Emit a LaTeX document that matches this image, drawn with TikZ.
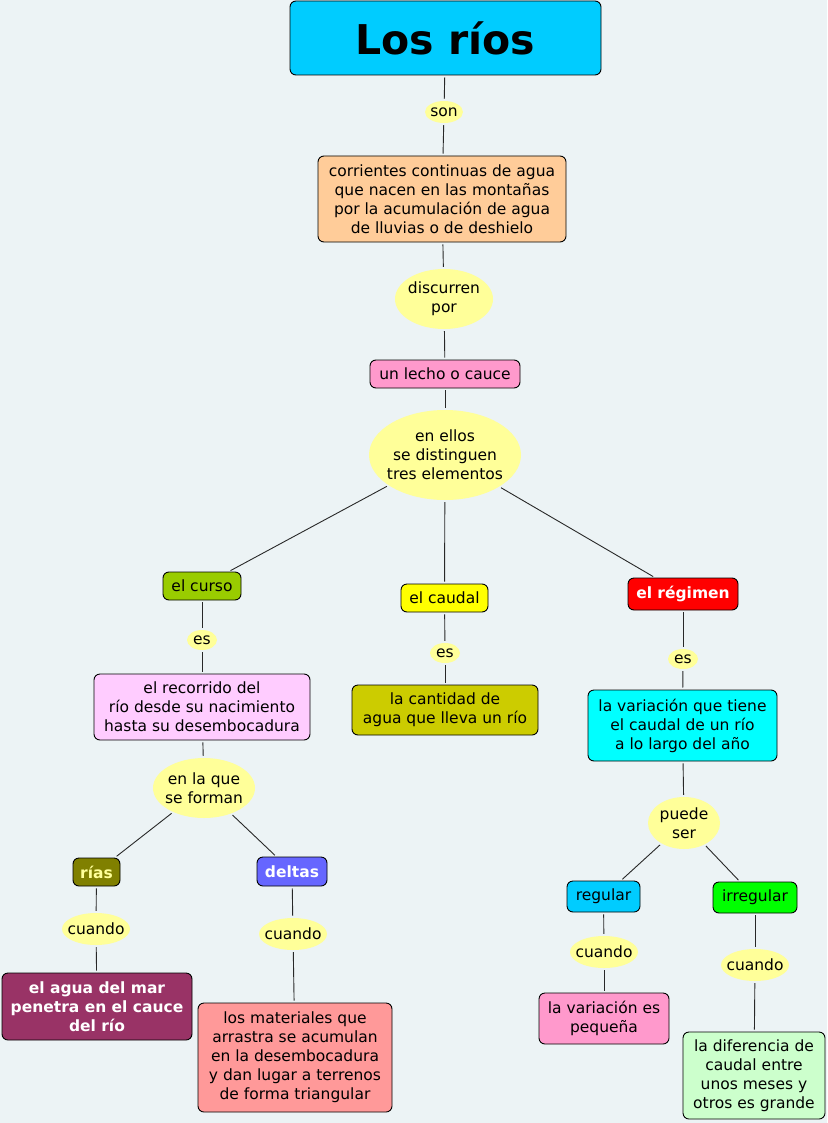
\documentclass[tikz,border=0pt]{standalone}
\usepackage{fontspec}
\setmainfont{DejaVu Sans}
\usetikzlibrary{shapes.geometric}
\definecolor{bg}{RGB}{236,243,245}
\definecolor{lnk}{RGB}{255,255,153}
\definecolor{ctitle}{RGB}{0,204,255}
\definecolor{corange}{RGB}{255,204,153}
\definecolor{cpink}{RGB}{255,153,204}
\definecolor{ccurso}{RGB}{153,204,0}
\definecolor{ccaudal}{RGB}{255,255,0}
\definecolor{cregimen}{RGB}{255,0,0}
\definecolor{clila}{RGB}{255,204,255}
\definecolor{colive}{RGB}{204,204,0}
\definecolor{ccyan}{RGB}{0,255,255}
\definecolor{crias}{RGB}{128,128,0}
\definecolor{cdeltas}{RGB}{102,102,255}
\definecolor{cgreen}{RGB}{0,255,0}
\definecolor{cmar}{RGB}{153,51,102}
\definecolor{csalmon}{RGB}{255,153,153}
\definecolor{cmint}{RGB}{204,255,204}
\definecolor{cline}{RGB}{40,40,40}
\begin{document}
\begin{tikzpicture}[x=1pt,y=-1pt,
  txt/.style={font=\fontsize{15.5}{19}\selectfont},
  cbox/.style={txt,draw=black,line width=0.9pt,rounded corners=6pt,align=center,inner sep=0pt},
  lk/.style={ellipse,fill=lnk,draw=none,inner sep=0pt},
  lktext/.style={txt,align=center,inner sep=0pt},
  conn/.style={draw=cline,line width=0.9pt,shorten <=2pt,shorten >=2pt}]
\useasboundingbox (0,0) rectangle (827,1123);
\fill[bg] (0,0) rectangle (827,1123);

\node[cbox,fill=ctitle,minimum width=311pt,minimum height=74pt,font=\fontsize{41}{44}\bfseries\selectfont] (title) at (445.5,38) {Los ríos};
\node[lk,minimum width=38pt,minimum height=22pt] (son) at (444,112) {};
\node[lktext] (sont) at (son) {son};
\node[cbox,fill=corange,minimum width=248pt,minimum height=86pt] (corr) at (442,199) {corrientes continuas de agua\\que nacen en las montañas\\por la acumulación de agua\\de lluvias o de deshielo};
\node[lk,minimum width=98pt,minimum height=60pt] (disc) at (444,299) {};
\node[lktext] (disct) at (disc) {discurren\\por};
\node[cbox,fill=cpink,minimum width=150pt,minimum height=28pt] (lecho) at (445,374) {un lecho o cauce};
\node[lk,minimum width=152pt,minimum height=90pt] (elem) at (445,455) {};
\node[lktext] (elemt) at (elem) {en ellos\\se distinguen\\tres elementos};

\node[cbox,fill=ccurso,minimum width=78pt,minimum height=28pt] (curso) at (202,586) {el curso};
\node[cbox,fill=ccaudal,minimum width=87pt,minimum height=28pt] (caudal) at (444.5,598) {el caudal};
\node[cbox,fill=cregimen,minimum width=110pt,minimum height=32pt,text=white,font=\fontsize{15.5}{19}\bfseries\selectfont] (reg) at (683,594) {el régimen};

\node[lk,minimum width=30pt,minimum height=20pt] (es1) at (202,640) {};
\node[lktext] (es1t) at (es1) {es};
\node[lk,minimum width=30pt,minimum height=20pt] (es2) at (445,653) {};
\node[lktext] (es2t) at (es2) {es};
\node[lk,minimum width=30pt,minimum height=20pt] (es3) at (683,659) {};
\node[lktext] (es3t) at (es3) {es};

\node[cbox,fill=clila,minimum width=216pt,minimum height=66pt] (reco) at (202,707) {el recorrido del\\río desde su nacimiento\\hasta su desembocadura};
\node[cbox,fill=colive,minimum width=186pt,minimum height=50pt] (cant) at (445,710) {la cantidad de\\agua que lleva un río};
\node[cbox,fill=ccyan,minimum width=189pt,minimum height=71pt] (vari) at (682.5,725.5) {la variación que tiene\\el caudal de un río\\a lo largo del año};

\node[lk,minimum width=102pt,minimum height=60pt] (enla) at (204,788) {};
\node[lktext] (enlat) at (enla) {en la que\\se forman};
\node[lk,minimum width=72pt,minimum height=52pt] (puede) at (684,823) {};
\node[lktext] (puedet) at (puede) {puede\\ser};

\node[cbox,fill=crias,minimum width=47pt,minimum height=28pt,text=lnk,font=\fontsize{15.5}{19}\bfseries\selectfont] (rias) at (96.5,872) {rías};
\node[cbox,fill=cdeltas,minimum width=70pt,minimum height=29pt,text=white,font=\fontsize{15.5}{19}\bfseries\selectfont] (deltas) at (292,871.5) {deltas};
\node[cbox,fill=ctitle,minimum width=73pt,minimum height=31pt] (regu) at (603.5,896.5) {regular};
\node[cbox,fill=cgreen,minimum width=84pt,minimum height=31pt] (irre) at (755,897.5) {irregular};

\node[lk,minimum width=68pt,minimum height=32pt] (cu1) at (96,929) {};
\node[lktext] (cu1t) at (cu1) {cuando};
\node[lk,minimum width=68pt,minimum height=32pt] (cu2) at (293,934) {};
\node[lktext] (cu2t) at (cu2) {cuando};
\node[lk,minimum width=68pt,minimum height=32pt] (cu3) at (604,952) {};
\node[lktext] (cu3t) at (cu3) {cuando};
\node[lk,minimum width=68pt,minimum height=32pt] (cu4) at (755,965) {};
\node[lktext] (cu4t) at (cu4) {cuando};

\node[cbox,fill=cmar,minimum width=190pt,minimum height=67pt,text=white,font=\fontsize{15.5}{19}\bfseries\selectfont] (mar) at (97,1006.5) {el agua del mar\\penetra en el cauce\\del río};
\node[cbox,fill=csalmon,minimum width=194pt,minimum height=109pt] (mat) at (295,1057.5) {los materiales que\\arrastra se acumulan\\en la desembocadura\\y dan lugar a terrenos\\de forma triangular};
\node[cbox,fill=cpink,minimum width=130pt,minimum height=51pt] (peq) at (604,1018.5) {la variación es\\pequeña};
\node[cbox,fill=cmint,minimum width=142pt,minimum height=87pt] (dif) at (754,1075.5) {la diferencia de\\caudal entre\\unos meses y\\otros es grande};

\draw[conn] (title) -- (son);
\draw[conn] (son) -- (corr);
\draw[conn] (corr) -- (disc);
\draw[conn] (disc) -- (lecho);
\draw[conn] (lecho) -- (elem);
\draw[conn] (elem) -- (curso);
\draw[conn] (elem) -- (caudal);
\draw[conn] (elem) -- (reg);
\draw[conn] (curso) -- (es1);
\draw[conn] (es1) -- (reco);
\draw[conn] (caudal) -- (es2);
\draw[conn] (es2) -- (cant);
\draw[conn] (reg) -- (es3);
\draw[conn] (es3) -- (vari);
\draw[conn] (reco) -- (enla);
\draw[conn] (vari) -- (puede);
\draw[conn] (enla) -- (rias);
\draw[conn] (enla) -- (deltas);
\draw[conn] (puede) -- (regu);
\draw[conn] (puede) -- (irre);
\draw[conn] (rias) -- (cu1);
\draw[conn] (cu1) -- (mar);
\draw[conn] (deltas) -- (cu2);
\draw[conn] (cu2) -- (mat);
\draw[conn] (regu) -- (cu3);
\draw[conn] (cu3) -- (peq);
\draw[conn] (irre) -- (cu4);
\draw[conn] (cu4) -- (dif);
\end{tikzpicture}
\end{document}
